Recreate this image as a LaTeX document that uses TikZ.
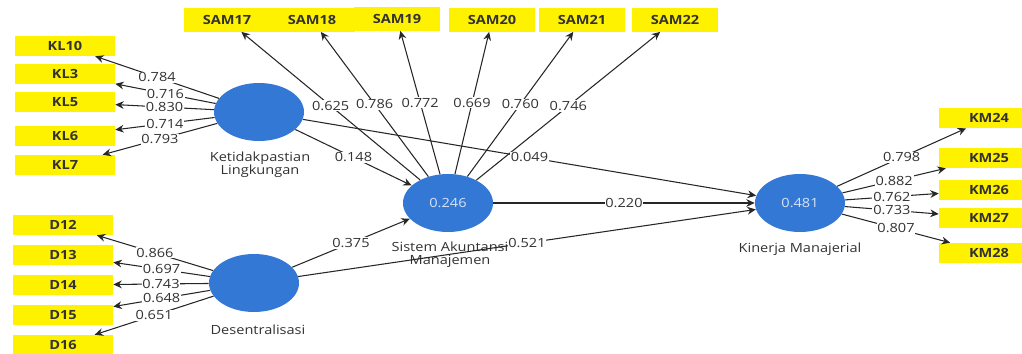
\documentclass[tikz,border=0pt]{standalone}
\usepackage{fontspec}
\setmainfont{Open Sans}[FakeStretch=1.15]
\usetikzlibrary{shapes.geometric,arrows.meta}

\definecolor{indyellow}{RGB}{255,242,0}
\definecolor{latblue}{RGB}{52,120,214}
\definecolor{txtgray}{RGB}{50,50,50}

\tikzset{
  ind/.style={fill=indyellow, minimum width=2.5cm, minimum height=0.5cm, inner sep=0pt, font=\small\bfseries, text=txtgray},
  samind/.style={ind, minimum width=2.15cm, minimum height=0.58cm},
  lat/.style={ellipse, fill=latblue, minimum width=2.25cm, minimum height=1.45cm, inner sep=0pt, font=\small, text=white!80!latblue},
  latname/.style={font=\small, text=txtgray, align=center},
  path/.style={-{Stealth[length=6pt,width=5.5pt]}, black!85, line width=0.75pt},
  lbl/.style={fill=white, inner sep=0.6pt, font=\small, text=txtgray},
}

\begin{document}
\begin{tikzpicture}[x=0.025cm, y=-0.025cm]
    \useasboundingbox (0,0) rectangle (1022,354);

    %latent variables
    \node[lat] (KL) at (259,112) {};
    \node[lat] (D) at (254,283) {};
    \node[lat] (SAM) at (448,203) {0.246};
    \node[lat] (KM) at (800,203) {0.481};

    %names of latent variables
    \node[latname] (KLname) at (260,165) {Ketidakpastian\\[-2pt]Lingkungan};
    \node[latname] (Dname) at (258,330) {Desentralisasi};
    \node[latname] (SAMname) at (450,255) {Sistem Akuntansi\\[-2pt]Manajemen};
    \node[latname] (KMname) at (800,249) {Kinerja Manajerial};

    %indicators KL
    \node[ind] (KL10) at (65,46) {KL10};
    \node[ind] (KL3) at (65,74) {KL3};
    \node[ind] (KL5) at (65,102) {KL5};
    \node[ind] (KL6) at (65,136) {KL6};
    \node[ind] (KL7) at (65,165) {KL7};

    %indicators D
    \node[ind] (D12) at (63,225) {D12};
    \node[ind] (D13) at (63,255) {D13};
    \node[ind] (D14) at (63,285) {D14};
    \node[ind] (D15) at (63,315) {D15};
    \node[ind] (D16) at (63,345) {D16};

    %indicators SAM
    \node[samind] (SAM17) at (227,20) {SAM17};
    \node[samind] (SAM18) at (312,20) {SAM18};
    \node[samind] (SAM19) at (397,19) {SAM19};
    \node[samind] (SAM20) at (492,20) {SAM20};
    \node[samind] (SAM21) at (582,20) {SAM21};
    \node[samind] (SAM22) at (675,20) {SAM22};

    %indicators KM
    \node[ind] (KM24) at (989,118) {KM24};
    \node[ind] (KM25) at (989,158) {KM25};
    \node[ind] (KM26) at (989,190) {KM26};
    \node[ind] (KM27) at (989,218) {KM27};
    \node[ind] (KM28) at (989,253) {KM28};

    %loadings KL
    \draw[path] (KL) -- node[lbl] {0.784} (KL10);
    \draw[path] (KL) -- node[lbl] {0.716} (KL3);
    \draw[path] (KL) -- node[lbl] {0.830} (KL5);
    \draw[path] (KL) -- node[lbl] {0.714} (KL6);
    \draw[path] (KL) -- node[lbl] {0.793} (KL7);

    %loadings D
    \draw[path] (D) -- node[lbl] {0.866} (D12);
    \draw[path] (D) -- node[lbl] {0.697} (D13);
    \draw[path] (D) -- node[lbl] {0.743} (D14);
    \draw[path] (D) -- node[lbl] {0.648} (D15);
    \draw[path] (D) -- node[lbl] {0.651} (D16);

    %loadings SAM
    \draw[path] (SAM) -- node[lbl] {0.625} (SAM17);
    \draw[path] (SAM) -- node[lbl] {0.786} (SAM18);
    \draw[path] (SAM) -- node[lbl] {0.772} (SAM19);
    \draw[path] (SAM) -- node[lbl] {0.669} (SAM20);
    \draw[path] (SAM) -- node[lbl] {0.760} (SAM21);
    \draw[path] (SAM) -- node[lbl] {0.746} (SAM22);

    %loadings KM
    \draw[path] (KM) -- node[lbl] {0.798} (KM24);
    \draw[path] (KM) -- node[lbl] {0.882} (KM25);
    \draw[path] (KM) -- node[lbl] {0.762} (KM26);
    \draw[path] (KM) -- node[lbl] {0.733} (KM27);
    \draw[path] (KM) -- node[lbl] {0.807} (KM28);

    %inner model
    \draw[path] (KL) -- node[lbl] {0.148} (SAM);
    \draw[path] (D) -- node[lbl] {0.375} (SAM);
    \draw[path] (KL) -- node[lbl] {0.049} (KM);
    \draw[path] (D) -- node[lbl] {0.521} (KM);
    \draw[path] (SAM) -- node[lbl] {0.220} (KM);
\end{tikzpicture}
\end{document}
